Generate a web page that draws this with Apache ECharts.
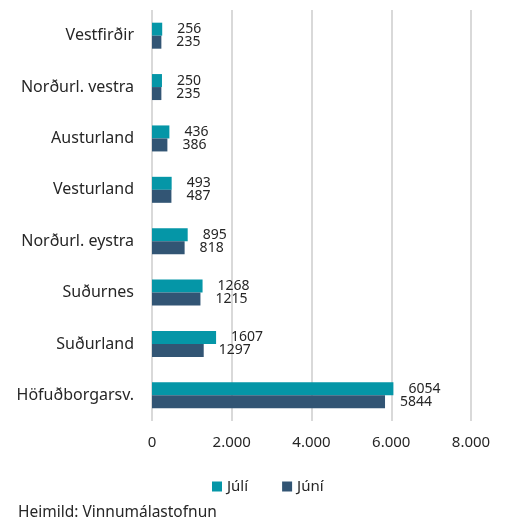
<!DOCTYPE html>
<html>
<head>
<meta charset="utf-8">
<script src="https://cdn.jsdelivr.net/npm/echarts@6/dist/echarts.min.js"></script>
<style>
  body { margin: 0; background: #fff; }
  #chart { width: 507px; height: 525px; }
</style>
</head>
<body>
<div id="chart"></div>
<script>
// landshlutar, neðst fyrst (ECharts teiknar y-ás neðan frá)
var regions = ['Höfuðborgarsv.', 'Suðurland', 'Suðurnes', 'Norðurl. eystra', 'Vesturland', 'Austurland', 'Norðurl. vestra', 'Vestfirðir']
var juli = [6054, 1607, 1268, 895, 493, 436, 250, 256]
var juni = [5844, 1297, 1215, 818, 487, 386, 235, 235]
var xTicks = [0, 2000, 4000, 6000, 8000]

var font = 'Noto Sans'
var chart = echarts.init(document.getElementById('chart'))

var barLabel = { show: true, position: 'right', distance: 15, fontFamily: font, fontSize: 14, color: '#262626' }

var option = {
  backgroundColor: '#fff',
  color: ['#0596a7', '#325574'],
  textStyle: { fontFamily: font },
  grid: {
    left: 152,
    right: 36,
    top: 10,
    bottom: 104
  },
  legend: {
    data: ['Júlí', 'Júní'],
    left: 207,
    top: 474,
    itemWidth: 10,
    itemHeight: 10,
    itemGap: 34,
    icon: 'rect',
    textStyle: { fontFamily: font, fontSize: 15, color: '#262626' }
  },
  graphic: [{
    type: 'text',
    left: 18,
    top: 505,
    style: { text: 'Heimild: Vinnumálastofnun', font: '15.5px "Noto Sans"', fill: '#262626' }
  }],
  xAxis: {
    type: 'value',
    min: xTicks[0],
    max: xTicks[xTicks.length - 1],
    interval: 2000,
    axisLine: { show: false },
    axisTick: { show: false },
    splitLine: { lineStyle: { color: '#d9d9d9', width: 2 } },
    axisLabel: {
      fontFamily: font,
      fontSize: 15,
      color: '#262626',
      margin: 14,
      formatter: function (v) {
        return v === 0 ? '0' : (v / 1000).toFixed(3)
      }
    }
  },
  yAxis: {
    type: 'category',
    data: regions,
    axisLine: { show: false },
    axisTick: { show: false },
    axisLabel: { fontFamily: font, fontSize: 16, color: '#262626', margin: 18 }
  },
  series: [
    {
      name: 'Júlí',
      type: 'bar',
      data: juli,
      barWidth: 13,
      barGap: '0%',
      label: barLabel
    },
    {
      name: 'Júní',
      type: 'bar',
      data: juni,
      barWidth: 13,
      barGap: '0%',
      label: barLabel
    }
  ]
}

chart.setOption(option)
</script>
</body>
</html>
